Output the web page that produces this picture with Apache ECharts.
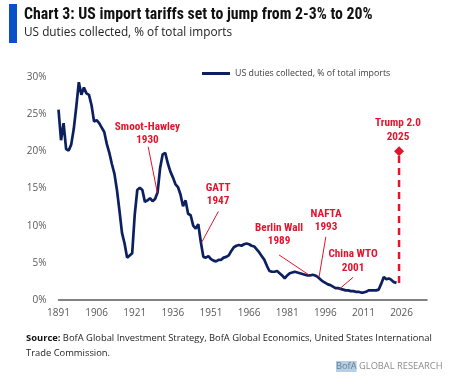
<!DOCTYPE html>
<html><head><meta charset="utf-8">
<script src="https://cdn.jsdelivr.net/npm/echarts@6/dist/echarts.min.js"></script>
<style>html,body{margin:0;padding:0;background:#fff}#c{width:468px;height:390px}</style>
</head><body><div id="c"></div>
<script>
const years = [];
for (let y = 1891; y <= 2024; y++) years.push(y);
const duties = [
25.6,21.5,23.8,20.3,20.1,20.9,23.0,26.0,29.3,27.6,
28.6,27.8,27.6,26.2,24.0,24.2,23.8,23.2,22.6,21.0,
19.8,18.3,17.0,14.8,12.0,9.0,7.6,5.7,6.0,6.3,
11.5,14.8,15.1,14.8,13.2,13.4,13.7,13.3,13.6,14.5,
17.8,19.6,19.8,18.4,17.3,16.5,15.6,15.2,14.2,12.6,
13.4,11.6,11.4,10.0,9.6,10.2,7.8,5.8,5.7,5.9,
5.5,5.3,5.2,5.4,5.4,5.7,5.8,6.0,6.6,7.1,
7.3,7.4,7.3,7.5,7.6,7.5,7.3,7.2,6.8,6.4,
5.9,5.4,4.6,3.9,3.8,3.8,3.9,3.6,3.3,2.9,
3.3,3.6,3.7,3.8,3.7,3.6,3.5,3.4,3.3,3.3,
3.4,3.3,3.1,2.8,2.5,2.3,2.1,2.0,1.8,1.6,
1.6,1.5,1.4,1.3,1.3,1.2,1.2,1.1,1.1,1.0,
1.0,1.1,1.3,1.3,1.3,1.3,1.4,2.2,3.1,2.8,
2.9,2.7,2.4,2.3
];
const trumpYear = 2025;
const trumpFrom = 2.3;
const trumpTo = 20;
const xTicks = [1891,1906,1921,1936,1951,1966,1981,1996,2011,2026];
const yTicks = [0,5,10,15,20,25,30];
// annotation: text, text-centre coord, leader from, leader to
const notes = [
  {text:'Smoot-Hawley\n1930', at:[1926.0,22.4], from:[1926.3,20.6], to:[1929.9,14.4]},
  {text:'GATT\n1947', at:[1953.8,14.15], from:[1953.9,11.9], to:[1947.4,7.8]},
  {text:'Berlin Wall\n1989', at:[1977.8,8.8], from:[1977.8,6.06], to:[1989.6,3.36]},
  {text:'NAFTA\n1993', at:[1996.3,10.65], from:[1996.2,8.5], to:[1993.5,3.05]},
  {text:'China WTO\n2001', at:[2006.9,5.2], from:[2006.9,3.05], to:[2001.4,1.44]},
  {text:'Trump 2.0\n2025', at:[2024.6,22.85], from:null, to:null}
];

const RED = '#e4142c';
const NAVY = '#0c2060';
const GRAY = '#595959';
const NARROW = '"Liberation Sans Narrow","Arial Narrow","Roboto Condensed",sans-serif';
const SANS = '"Open Sans","Noto Sans",sans-serif';

const lineData = years.map((y,i)=>[y,duties[i]]);
const chart = echarts.init(document.getElementById('c'), null, {renderer:'canvas'});
chart.setOption({
  animation:false,
  backgroundColor:'#fff',
  grid:{left:58.5, right:41, top:77, bottom:90, containLabel:false},
  legend:{
    data:['US duties collected, % of total imports'],
    left:202, top:69, padding:0, icon:'rect', itemWidth:28, itemHeight:3, itemGap:4,
    textStyle:{fontSize:8.8, color:'#404040', fontFamily:SANS, padding:[0,0,0,0]}
  },
  xAxis:{
    type:'value', min:1891, max:2036,
    axisLine:{show:true, lineStyle:{color:GRAY, width:1.5}},
    axisTick:{show:false},
    splitLine:{show:false},
    axisLabel:{customValues:xTicks, color:GRAY, fontSize:10, fontFamily:SANS, margin:8, formatter:v=>String(v)}
  },
  yAxis:{
    type:'value', min:0, max:30, interval:5,
    axisLine:{show:false}, axisTick:{show:false}, splitLine:{show:false},
    axisLabel:{color:GRAY, fontSize:10, fontFamily:SANS, margin:12, formatter:'{value}%'}
  },
  series:[
    {
      name:'US duties collected, % of total imports',
      type:'line', data:lineData, showSymbol:false, smooth:false,
      lineStyle:{color:NAVY, width:2.7}, itemStyle:{color:NAVY},
      markLine:{
        silent:true, symbol:['none','none'], animation:false,
        lineStyle:{color:RED, width:1, type:'solid'},
        label:{show:false},
        data: notes.filter(n=>n.from).map(n=>[{coord:n.from},{coord:n.to}])
      },
      markPoint:{
        silent:true, symbol:'circle', symbolSize:1, itemStyle:{color:'rgba(0,0,0,0)'},
        label:{show:true, position:'inside', color:RED, fontWeight:'bold', fontSize:11.2,
               fontFamily:NARROW, lineHeight:13.5, formatter:p=>p.name},
        data: notes.map(n=>({name:n.text, coord:n.at}))
      }
    },
    {
      name:'trump', type:'line',
      data:[{value:[trumpYear,trumpFrom], symbol:'none'},{value:[trumpYear,trumpTo], symbol:'diamond', symbolSize:10}],
      showSymbol:true,
      lineStyle:{color:RED, width:2.5, type:[7,5]},
      itemStyle:{color:RED}
    }
  ],
  graphic:[
    {type:'rect', left:9, top:4, shape:{width:8, height:39}, style:{fill:'#0a50c8'}},
    {type:'text', left:24, top:7, style:{text:'Chart 3: US import tariffs set to jump from 2-3% to 20%', font:'bold 15.8px '+NARROW, fill:'#111'}},
    {type:'text', left:24, top:27, style:{text:'US duties collected, % of total imports', font:'11.8px '+SANS, fill:'#222'}},
    {type:'text', left:26, top:331, style:{
      text:'{b|Source:} BofA Global Investment Strategy, BofA Global Economics, United States International\nTrade Commission.',
      font:'9.4px '+SANS, fill:'#222', lineHeight:15,
      rich:{b:{fontWeight:'bold', fontSize:9.4, fontFamily:SANS, fill:'#111'}}
    }},
    {type:'text', left:336, top:361, style:{
      text:'{h|BofA} GLOBAL RESEARCH', font:'9.3px '+SANS, fill:'#8a8a8a',
      rich:{h:{backgroundColor:'#b5cfe6', fill:'#6f7f8f', fontSize:9.3, fontFamily:SANS, padding:[1,0,1,0]}}
    }}
  ]
});
</script></body></html>
